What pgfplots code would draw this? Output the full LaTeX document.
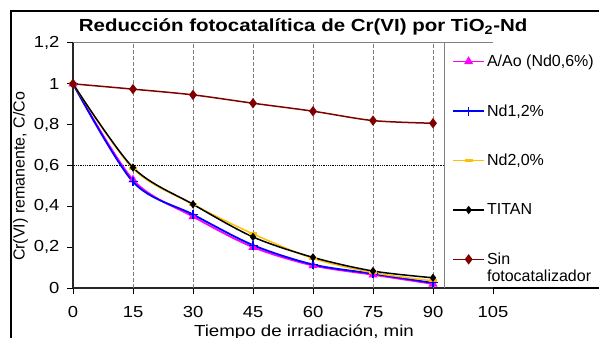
\documentclass[border=0pt]{standalone}
\usepackage{pgfplots}
\pgfplotsset{compat=1.18}
\usepackage{fontspec}
\setmainfont{Liberation Sans}
\definecolor{cmag}{HTML}{FF00FF}
\definecolor{cblue}{HTML}{0000FF}
\definecolor{cgold}{HTML}{FFC000}
\definecolor{cdred}{HTML}{800000}
\definecolor{cgrid}{HTML}{808080}
\begin{document}
\begin{tikzpicture}
\useasboundingbox (0,0) rectangle (599pt,337pt);
\clip (0,0) rectangle (599pt,337pt);
\fill[white] (0,0) rectangle (599pt,337pt);
\draw[line width=2pt] (11pt,-10pt) -- (11pt,326pt) -- (610pt,326pt);
\begin{axis}[
  scale only axis,
  width=420pt, height=245pt,
  at={(73pt,49pt)}, anchor=south west,
  xmin=0, xmax=105, ymin=0, ymax=1.2,
  axis lines=left,
  axis line style={-, line width=1.8pt, black!85},
  clip=false,
  xtick={0,15,...,105},
  ytick={0,0.2,...,1.2},
  tick align=outside,
  major tick length=6pt,
  tick style={black, line width=1pt},
  /pgf/number format/assume math mode=true,
  /pgf/number format/use comma,
  tick label style={font=\fontsize{16}{19}\selectfont},
  xticklabel={\scalebox{1.15}[1]{\pgfmathprintnumber{\tick}}},
  yticklabel={\scalebox{1.15}[1]{\pgfmathprintnumber{\tick}}},
  yticklabel style={xshift=-4pt},
  xticklabel style={yshift=-9pt},
  title={\scalebox{1.17}[1]{\textbf{Reducción fotocatalítica de Cr(VI) por TiO\textsubscript{2}-Nd}}},
  title style={font=\fontsize{17.5}{20}\selectfont, at={(axis description cs:0.548,1.045)}, anchor=base, yshift=-6pt},
  xlabel={\scalebox{1.17}[1]{Tiempo de irradiación, min}},
  xlabel style={font=\fontsize{16}{19}\selectfont, at={(axis description cs:0.55,-0.198)}, anchor=base},
  ylabel={Cr(VI) remanente, C/Co},
  ylabel style={font=\fontsize{16}{19}\selectfont, at={(axis description cs:-0.125,0.455)}, anchor=center},
  legend style={draw=none, fill=none, at={(axis description cs:0.9025,0.96)}, anchor=north west,
    font=\fontsize{16}{19}\selectfont, row sep=32.5pt, inner sep=0pt,
    cells={anchor=west}},
  legend image code/.code={\draw[mark repeat=2,mark phase=2,#1] plot coordinates {(0pt,0pt)(15.5pt,0pt)(31pt,0pt)};},
]
\pgfplotsinvokeforeach{15,30,45,60,75,90}{
  \draw[cgrid, dash pattern=on 4pt off 2pt, line width=0.8pt] (axis cs:#1,0) -- (axis cs:#1,1.2);
}
\draw[black, densely dotted, line width=0.8pt] (axis cs:-1.5,0.6) -- (axis cs:92.75,0.6);
\draw[cgrid, line width=1pt] (axis cs:0,1.2) -- (axis cs:105,1.2);
\draw[cgrid, line width=1pt] (axis cs:92.75,0) -- (axis cs:92.75,1.2);
\draw[black, line width=1.8pt] (axis cs:105,0) -- (axis cs:132,0);

\addplot[cmag, line width=1.8pt, smooth, mark=triangle*, mark size=3.5pt, mark options={solid}]
  coordinates {(0,1)(15,0.53)(30,0.35)(45,0.2)(60,0.11)(75,0.065)(90,0.02)};
\addlegendentry{A/Ao (Nd0,6\%)}
\addplot[cblue, line width=1.8pt, smooth, mark=+, mark size=4.5pt, mark options={line width=1.2pt}]
  coordinates {(0,1)(15,0.52)(30,0.36)(45,0.21)(60,0.115)(75,0.07)(90,0.025)};
\addlegendentry{Nd1,2\%}
\addplot[cgold, line width=1.5pt, smooth, mark=-, mark size=4pt, mark options={line width=3pt}]
  coordinates {(0,1)(15,0.585)(30,0.41)(45,0.265)(60,0.145)(75,0.075)(90,0.035)};
\addlegendentry{Nd2,0\%}
\addplot[black, line width=1.5pt, smooth, mark=diamond*, mark size=3pt]
  coordinates {(0,1)(15,0.59)(30,0.41)(45,0.25)(60,0.15)(75,0.083)(90,0.05)};
\addlegendentry{TITAN}
\addplot[cdred, line width=1.5pt, smooth, mark=diamond*, mark size=4pt]
  coordinates {(0,1)(15,0.974)(30,0.946)(45,0.905)(60,0.866)(75,0.82)(90,0.807)};
\addlegendentry{\smash{\rlap{\raisebox{-17pt}{fotocatalizador}}}Sin}
\end{axis}
\end{tikzpicture}
\end{document}
